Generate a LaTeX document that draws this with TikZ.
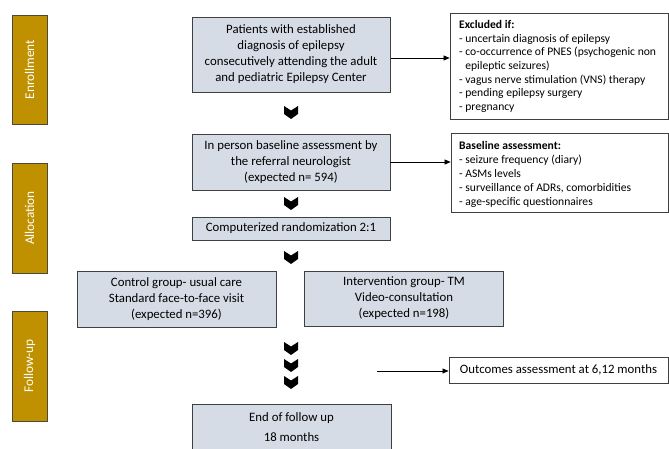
\documentclass[tikz,border=0pt]{standalone}
\usepackage{fontspec}
\setmainfont{Carlito}
\usetikzlibrary{arrows.meta}
\definecolor{boxfill}{HTML}{D6DCE5}
\definecolor{boxline}{HTML}{404040}
\definecolor{gold}{HTML}{BF9000}
\definecolor{goldline}{HTML}{4A4A3A}
\tikzset{
  mainbox/.style={draw=boxline, fill=boxfill, line width=0.9pt, inner sep=0pt,
    align=center, font=\fontsize{12.8}{16}\selectfont},
  sidebox/.style={draw=boxline, fill=white, line width=0.8pt, inner sep=0pt},
  phase/.style={draw=goldline, fill=gold, line width=0.8pt, inner sep=0pt,
    text=white, rotate=90, font=\fontsize{13.3}{15}\selectfont},
  listtext/.style={align=left, inner sep=0pt, font=\fontsize{11.6}{13.6}\selectfont},
  arr/.style={-{Triangle[length=6pt,width=5pt]}, line width=0.6pt, black},
  chevron/.pic={\fill[black] (-7,0) -- (0,4.5) -- (7,0) -- (7,8) -- (0,13) -- (-7,8) -- cycle;}
}
\begin{document}
\begin{tikzpicture}[x=1pt,y=-1pt]
\useasboundingbox (0,0) rectangle (669,449);
% phase labels
\node[phase, minimum height=35pt, minimum width=109pt] (enr) at (29.5,69.5) {Enrollment};
\node[phase, minimum height=35pt, minimum width=110pt] (alloc) at (29.5,218) {Allocation};
\node[phase, minimum height=35pt, minimum width=110pt] (fol) at (29.5,366) {Follow-up};
% main flow
\node[mainbox, minimum width=198pt, minimum height=75pt] (pat) at (291,54.5)
  {Patients with established\\diagnosis of epilepsy\\consecutively attending the adult\\and pediatric Epilepsy Center};
\node[mainbox, minimum width=198pt, minimum height=56pt] (base) at (291,162)
  {In person baseline assessment by\\the referral neurologist\\(expected n= 594)};
\node[mainbox, minimum width=198pt, minimum height=23pt] (rand) at (291,228.5)
  {Computerized randomization 2:1};
\node[mainbox, minimum width=199pt, minimum height=56pt] (ctrl) at (176.5,299)
  {Control group- usual care\\Standard face-to-face visit\\(expected n=396)};
\node[mainbox, minimum width=199pt, minimum height=55pt] (intv) at (404,298.5)
  {Intervention group- TM\\Video-consultation\\(expected n=198)};
\node[mainbox, minimum width=199pt, minimum height=70pt] (endb) at (291.5,439) {};
\node[inner sep=0pt, font=\fontsize{12.8}{16}\selectfont] (endA) at (291.5,418) {End of follow up};
\node[inner sep=0pt, font=\fontsize{12.8}{16}\selectfont] (endB) at (291.5,437) {18 months};
% side boxes
\node[sidebox, minimum width=218pt, minimum height=106pt] (excl) at (559,66) {};
\node[listtext, anchor=west] (exclT) at (459,66.5) {\textbf{Excluded if:}\\
- uncertain diagnosis of epilepsy\\
- co-occurrence of PNES (psychogenic non\\
\phantom{- }epileptic seizures)\\
- vagus nerve stimulation (VNS) therapy\\
- pending epilepsy surgery\\
- pregnancy};
\node[sidebox, minimum width=217pt, minimum height=79pt] (bas) at (559.5,172.5) {};
\node[listtext, anchor=west, font=\fontsize{11.6}{14}\selectfont] (basT) at (459,174) {\textbf{Baseline assessment:}\\
- seizure frequency (diary)\\
- ASMs levels\\
- surveillance of ADRs, comorbidities\\
- age-specific questionnaires};
\node[mainbox, fill=white, minimum width=219pt, minimum height=26pt] (out) at (558.5,370)
  {Outcomes assessment at 6,12 months};
% chevrons
\pic at (291,106) {chevron};
\pic at (291,197) {chevron};
\pic at (291,251) {chevron};
\pic at (291,342) {chevron};
\pic at (291,359) {chevron};
\pic at (291,376) {chevron};
% arrows
\coordinate (a1) at (391,58);
\draw[arr] (a1) -- (a1 -| excl.west);
\draw[arr] (base.east) -- (base.east -| bas.west);
\coordinate (a3) at (377,371);
\draw[arr] (a3) -- (a3 -| out.west);
\end{tikzpicture}
\end{document}
